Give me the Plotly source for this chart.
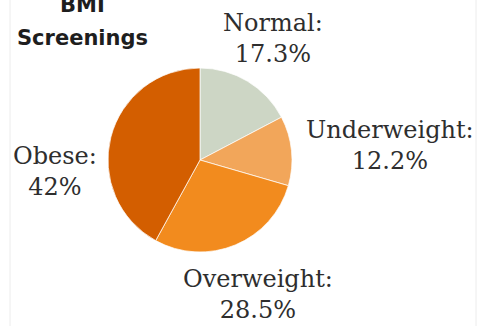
import plotly.graph_objects as go

# BMI screening results (percent of students screened)
categories = ["Normal", "Underweight", "Overweight", "Obese"]
shares = [17.3, 12.2, 28.5, 42]
slice_colors = ["#cdd6c5", "#f2a65a", "#f28b1e", "#d35e00"]

W, H = 477, 326


def px(x):
    return x / W


def py(y):
    return 1 - y / H


# pie geometry in pixels
cx, cy, r = 200, 160, 92

fig = go.Figure(
    go.Pie(
        labels=categories,
        values=shares,
        sort=False,
        direction="clockwise",
        rotation=0,
        marker=dict(colors=slice_colors, line=dict(color="rgba(255,255,255,0.7)", width=1)),
        textinfo="none",
        hoverinfo="label+percent",
        showlegend=False,
        domain=dict(x=[px(cx - r), px(cx + r)], y=[py(cy + r), py(cy - r)]),
    )
)

# slice labels placed around the pie
label_pos = {
    "Normal": (273, 38),
    "Underweight": (390, 145),
    "Overweight": (258, 294),
    "Obese": (55, 172),
}
for name, val in zip(categories, shares):
    x, y = label_pos[name]
    fig.add_annotation(
        x=px(x), y=py(y), xref="paper", yref="paper",
        text=f"{name}:<br>{val:g}%",
        showarrow=False, align="center",
        xanchor="center", yanchor="middle",
        font=dict(family="DejaVu Serif", size=24, color="#2e2e2e"),
    )

# two-line heading in the top-left corner
for txt, y in [("BMI", 5), ("Screenings", 38)]:
    fig.add_annotation(
        x=px(82), y=py(y), xref="paper", yref="paper",
        text=f"<b>{txt}</b>", showarrow=False,
        xanchor="center", yanchor="middle",
        font=dict(family="DejaVu Sans", size=21, color="#1e1e1e"),
    )

# faint card edges
for xe in (10, 476):
    fig.add_shape(
        type="line", xref="paper", yref="paper",
        x0=px(xe), x1=px(xe), y0=0, y1=1,
        line=dict(color="#ececec", width=1),
    )

fig.update_layout(
    width=W, height=H,
    margin=dict(l=0, r=0, t=0, b=0),
    paper_bgcolor="white",
    plot_bgcolor="white",
)

fig.write_html("out.html")
